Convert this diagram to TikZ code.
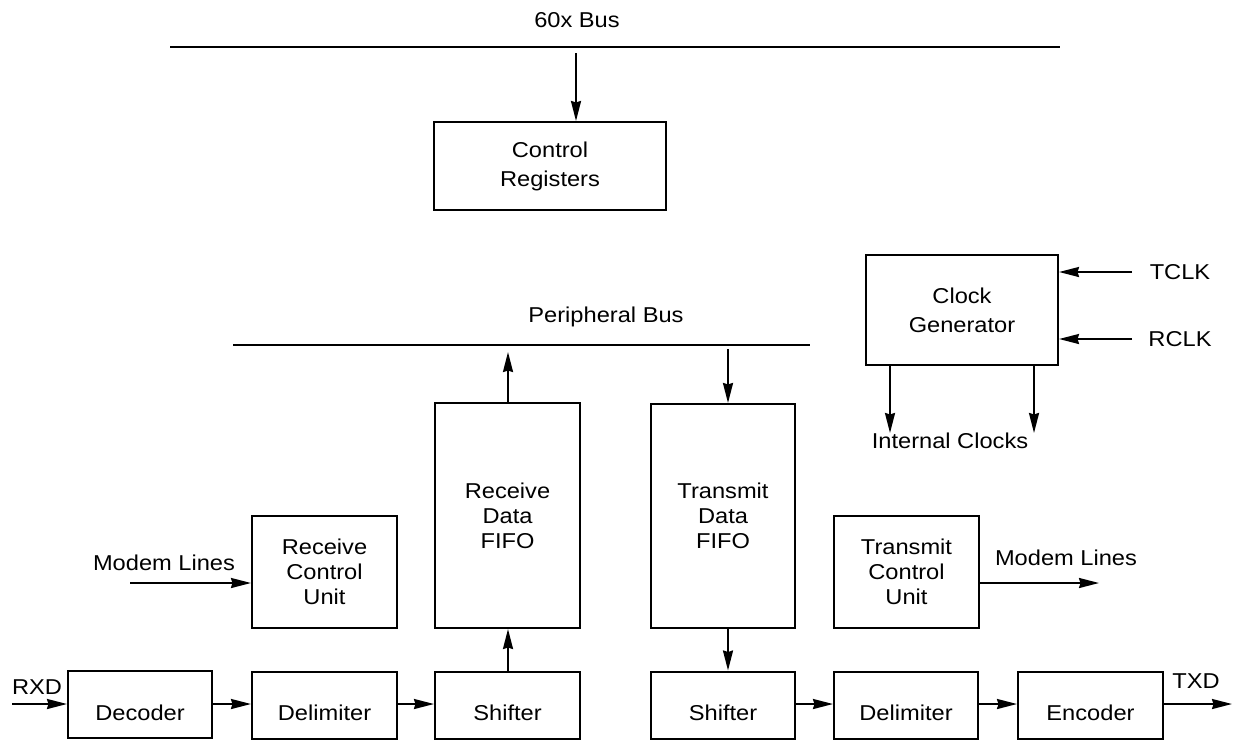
\documentclass[tikz,border=0pt]{standalone}
\usepackage{fontspec}
\setmainfont{Liberation Sans}[FakeStretch=1.1]
\usetikzlibrary{arrows.meta,calc}
\begin{document}
\begin{tikzpicture}[x=1pt,y=-1pt,
  every node/.style={font=\fontsize{21.5}{25}\selectfont, inner sep=0pt, align=center},
  blk/.style={draw, line width=2pt, rectangle},
  wide/.style={font=\fontsize{21.5}{29}\selectfont},
  low/.style={text height=31pt, text depth=0pt},
  arr/.style={line width=2pt, -{Stealth[length=20pt,width=10pt,inset=1.5pt]}},
  bus/.style={line width=2pt}]
\path[use as bounding box] (0,0) rectangle (1233,740);
% boxes
\node[blk, wide, minimum width=232pt, minimum height=88pt] (ctrl) at (550,166) {Control\\Registers};
\node[blk, wide, minimum width=192pt, minimum height=110pt] (clk) at (962,310) {Clock\\Generator};
\node[blk, minimum width=145pt, minimum height=225pt] (rfifo) at (507.5,515.5) {Receive\\Data\\FIFO};
\node[blk, minimum width=144pt, minimum height=224pt] (tfifo) at (723,516) {Transmit\\Data\\FIFO};
\node[blk, minimum width=145pt, minimum height=112pt] (rcu) at (324.5,572) {Receive\\Control\\Unit};
\node[blk, minimum width=145pt, minimum height=112pt] (tcu) at (906.5,572) {Transmit\\Control\\Unit};
\node[blk, low, minimum width=144pt, minimum height=67pt] (dec) at (140,704.5) {Decoder};
\node[blk, low, minimum width=145pt, minimum height=67pt] (rdel) at (324.5,705) {Delimiter};
\node[blk, low, minimum width=145pt, minimum height=67pt] (rsh) at (507.5,705) {Shifter};
\node[blk, low, minimum width=144pt, minimum height=67pt] (tsh) at (723,705) {Shifter};
\node[blk, low, minimum width=144pt, minimum height=67pt] (tdel) at (906,705) {Delimiter};
\node[blk, low, minimum width=145pt, minimum height=67pt] (enc) at (1090.5,705) {Encoder};
% labels
\node (l60) at (577,20) {60x Bus};
\node (lpb) at (606,317) {Peripheral Bus};
\node (ltclk) at (1180,272) {TCLK};
\node (lrclk) at (1180,339) {RCLK};
\node (lint) at (950,441) {Internal Clocks};
\node (lml) at (164,563) {Modem Lines};
\node (lmr) at (1066,558) {Modem Lines};
\node (lrxd) at (37,687) {RXD};
\node (ltxd) at (1196,681) {TXD};
% coordinates
\coordinate (b60l) at (170,47);
\coordinate (b60r) at (1060,47);
\coordinate (a60) at (576,53);
\coordinate (pbl) at (233,345);
\coordinate (pbr) at (810,345);
\coordinate (rx) at (508,352);
\coordinate (tx) at (728,349);
\coordinate (tclkin) at (1132,272);
\coordinate (rclkin) at (1132,339);
\coordinate (ic1) at (890,433);
\coordinate (ic2) at (1034,433);
\coordinate (mlin) at (130,583);
\coordinate (mlout) at (1099,583);
\coordinate (rxdin) at (12,704);
\coordinate (txdout) at (1232,704);
% buses
\draw[bus] (b60l) -- (b60r);
\draw[bus] (pbl) -- (pbr);
% connectors
\draw[arr] (a60) -- (ctrl.north -| a60);
\draw[arr] (rfifo.north -| rx) -- (rx);
\draw[arr] (tx) -- (tfifo.north -| tx);
\draw[arr] (tclkin) -- (clk.east |- tclkin);
\draw[arr] (rclkin) -- (clk.east |- rclkin);
\draw[arr] (clk.south -| ic1) -- (ic1);
\draw[arr] (clk.south -| ic2) -- (ic2);
\draw[arr] (mlin) -- (rcu.west |- mlin);
\draw[arr] (tcu.east |- mlout) -- (mlout);
\draw[arr] (rxdin) -- (dec.west |- rxdin);
\draw[arr] (dec.east |- rxdin) -- (rdel.west |- rxdin);
\draw[arr] (rdel.east |- rxdin) -- (rsh.west |- rxdin);
\draw[arr] (rsh.north -| rx) -- (rfifo.south -| rx);
\draw[arr] (tfifo.south -| tx) -- (tsh.north -| tx);
\draw[arr] (tsh.east |- txdout) -- (tdel.west |- txdout);
\draw[arr] (tdel.east |- txdout) -- (enc.west |- txdout);
\draw[arr] (enc.east |- txdout) -- (txdout);
\end{tikzpicture}
\end{document}
